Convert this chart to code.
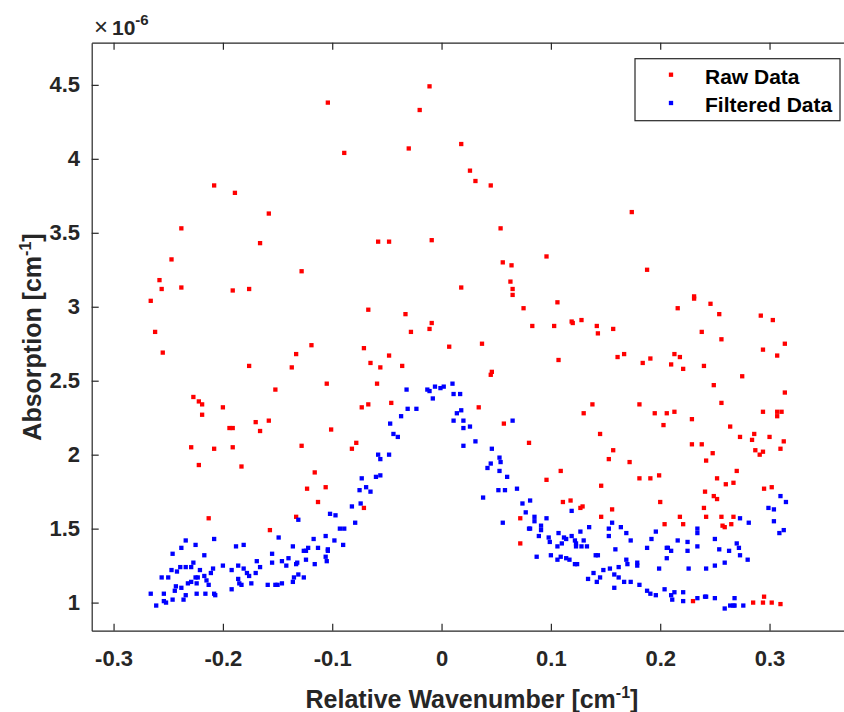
<!DOCTYPE html>
<html>
<head>
<meta charset="utf-8">
<script src="https://cdn.jsdelivr.net/npm/d3@7"></script>
<style>
  body { margin: 0; background: #fff; }
  text { font-family: "Liberation Sans", Arial, Helvetica, sans-serif; }
</style>
</head>
<body>
<div id="main-chart"></div>
<script>
const width = 844;
const height = 712;
const margin = { left: 91.7, right: -13, top: 42.7, bottom: 81.3 };

// absorption values in units of 1e-6 cm^-1
const rawData = [
  [-0.266, 3.04], [-0.262, 2.83], [-0.258, 3.18], [-0.256, 3.12], [-0.255, 2.69],
  [-0.247, 3.32], [-0.238, 3.53], [-0.238, 3.13], [-0.229, 2.05], [-0.227, 2.39],
  [-0.222, 2.36], [-0.222, 1.93], [-0.219, 2.34], [-0.219, 2.27], [-0.213, 1.57],
  [-0.208, 3.82], [-0.208, 2.04], [-0.2, 2.32], [-0.194, 2.18], [-0.191, 2.18],
  [-0.191, 3.11], [-0.191, 2.05], [-0.189, 3.77], [-0.183, 1.92], [-0.176, 3.12],
  [-0.176, 2.6], [-0.17, 2.22], [-0.166, 3.43], [-0.166, 2.16], [-0.158, 3.63],
  [-0.158, 2.23], [-0.157, 1.49], [-0.152, 2.44], [-0.137, 2.59], [-0.133, 2.68],
  [-0.133, 1.58], [-0.128, 3.24], [-0.128, 2.06], [-0.123, 1.77], [-0.119, 2.74],
  [-0.116, 1.88], [-0.113, 1.68], [-0.106, 1.78], [-0.105, 2.48], [-0.104, 4.38],
  [-0.101, 2.17], [-0.089, 4.04], [-0.082, 2.04], [-0.078, 2.08], [-0.073, 2.32],
  [-0.071, 2.72], [-0.071, 1.64], [-0.067, 2.98], [-0.067, 2.34], [-0.065, 2.62],
  [-0.059, 2.48], [-0.058, 3.44], [-0.056, 2.59], [-0.048, 3.44], [-0.048, 2.67],
  [-0.046, 2.35], [-0.036, 2.6], [-0.033, 2.95], [-0.03, 4.07], [-0.028, 2.83],
  [-0.02, 4.33], [-0.011, 4.49], [-0.011, 2.85], [-0.009, 3.45], [-0.009, 2.89],
  [0.007, 2.73], [0.018, 4.1], [0.018, 3.13], [0.026, 3.92], [0.031, 3.85],
  [0.034, 2.32], [0.037, 2.75], [0.045, 3.82], [0.045, 2.54], [0.046, 2.56],
  [0.054, 3.53], [0.056, 3.3], [0.057, 2.21], [0.063, 3.17], [0.064, 3.28],
  [0.065, 3.12], [0.065, 3.08], [0.072, 1.57], [0.072, 1.4], [0.075, 2.99],
  [0.08, 2.08], [0.083, 2.87], [0.096, 3.34], [0.096, 1.83], [0.103, 2.87],
  [0.106, 3.03], [0.107, 2.64], [0.109, 1.89], [0.111, 1.68], [0.118, 1.69],
  [0.119, 2.9], [0.12, 2.89], [0.127, 1.64], [0.129, 1.65], [0.128, 2.91],
  [0.13, 2.28], [0.138, 2.34], [0.142, 2.87], [0.143, 2.82], [0.145, 2.14],
  [0.146, 1.79], [0.146, 1.58], [0.153, 1.97], [0.156, 1.63], [0.157, 2.85],
  [0.157, 2.03], [0.161, 2.66], [0.167, 2.68], [0.172, 1.95], [0.174, 3.64],
  [0.181, 2.34], [0.181, 1.84], [0.184, 2.62], [0.188, 3.25], [0.191, 2.65],
  [0.191, 1.84], [0.195, 2.28], [0.199, 1.86], [0.2, 1.68], [0.203, 2.2],
  [0.204, 1.53], [0.206, 2.28], [0.21, 2.61], [0.213, 2.68], [0.213, 2.29],
  [0.216, 2.99], [0.218, 2.66], [0.218, 1.58], [0.221, 2.58], [0.221, 1.53],
  [0.229, 2.24], [0.229, 2.07], [0.23, 1.01], [0.231, 3.07], [0.231, 3.055],
  [0.238, 2.83], [0.238, 2.07], [0.24, 2.6], [0.24, 1.64], [0.241, 1.75],
  [0.242, 1.96], [0.242, 1.58], [0.246, 3.02], [0.248, 2.01], [0.249, 2.47],
  [0.249, 1.72], [0.252, 1.84], [0.252, 1.7], [0.254, 2.95], [0.256, 2.78],
  [0.256, 2.35], [0.256, 1.58], [0.257, 1.52], [0.259, 1.51], [0.26, 1.8],
  [0.264, 2.19], [0.265, 1.53], [0.267, 1.81], [0.267, 1.58], [0.27, 1.89],
  [0.273, 2.12], [0.275, 2.53], [0.284, 2.1], [0.285, 1.0], [0.286, 2.14],
  [0.287, 2.03], [0.291, 2.0], [0.292, 2.94], [0.294, 2.71], [0.294, 2.29],
  [0.294, 2.02], [0.294, 1.0], [0.295, 1.77], [0.295, 1.04], [0.3, 2.12],
  [0.302, 1.78], [0.302, 1.0], [0.303, 2.91], [0.307, 2.67], [0.307, 2.29],
  [0.307, 2.26], [0.31, 2.04], [0.31, 0.99], [0.311, 2.29], [0.313, 2.09],
  [0.314, 2.75], [0.314, 2.42],
];

const filteredData = [
  [-0.234, 1.42], [-0.208, 1.43], [-0.225, 1.39], [-0.238, 1.37], [-0.188, 1.38],
  [-0.181, 1.39], [-0.149, 1.44], [-0.246, 1.33], [-0.217, 1.32], [-0.155, 1.33],
  [-0.227, 1.27], [-0.169, 1.28], [-0.155, 1.27], [-0.146, 1.28], [-0.239, 1.24],
  [-0.234, 1.24], [-0.229, 1.24], [-0.247, 1.22], [-0.242, 1.21], [-0.221, 1.22],
  [-0.209, 1.23], [-0.211, 1.2], [-0.2, 1.25], [-0.192, 1.22], [-0.186, 1.25],
  [-0.181, 1.23], [-0.178, 1.2], [-0.176, 1.18], [-0.17, 1.2], [-0.166, 1.24],
  [-0.256, 1.17], [-0.25, 1.17], [-0.225, 1.17], [-0.223, 1.17], [-0.217, 1.18],
  [-0.215, 1.15], [-0.213, 1.12], [-0.229, 1.14], [-0.232, 1.13], [-0.224, 1.13],
  [-0.243, 1.11], [-0.244, 1.08], [-0.238, 1.1], [-0.186, 1.16], [-0.185, 1.13],
  [-0.183, 1.12], [-0.174, 1.13], [-0.159, 1.12], [-0.152, 1.12], [-0.15, 1.12],
  [-0.146, 1.13], [-0.192, 1.09], [-0.266, 1.06], [-0.254, 1.06], [-0.234, 1.05],
  [-0.224, 1.06], [-0.216, 1.06], [-0.208, 1.06], [-0.207, 1.05], [-0.246, 1.02],
  [-0.236, 1.02], [-0.254, 1.01], [-0.252, 1.0], [-0.261, 0.98],
  [-0.032, 2.44], [-0.013, 2.44], [-0.011, 2.43], [-0.006, 2.46], [-0.001, 2.45],
  [0.002, 2.46], [0.01, 2.48], [0.011, 2.41], [0.017, 2.41], [-0.008, 2.38],
  [-0.031, 2.31], [-0.023, 2.31], [-0.037, 2.26], [0.014, 2.28], [0.018, 2.3],
  [0.011, 2.23], [0.02, 2.23], [-0.047, 2.21], [0.02, 2.18], [0.026, 2.19],
  [-0.044, 2.14], [-0.04, 2.12], [0.02, 2.06], [-0.058, 2.0], [-0.056, 1.97],
  [-0.048, 2.0], [-0.06, 1.85], [-0.056, 1.86], [-0.073, 1.84], [-0.069, 1.78],
  [-0.075, 1.76], [-0.065, 1.75], [-0.082, 1.65], [-0.074, 1.67], [-0.102, 1.6],
  [-0.097, 1.59], [-0.131, 1.56], [-0.093, 1.5], [-0.089, 1.5], [-0.079, 1.54],
  [-0.117, 1.43], [-0.106, 1.45], [-0.098, 1.42], [-0.136, 1.38], [-0.122, 1.37],
  [-0.126, 1.35], [-0.124, 1.35], [-0.113, 1.37], [-0.104, 1.36], [-0.104, 1.35],
  [-0.09, 1.39], [-0.14, 1.3], [-0.142, 1.25], [-0.133, 1.26], [-0.132, 1.27],
  [-0.124, 1.29], [-0.116, 1.26], [-0.106, 1.31], [-0.105, 1.28], [-0.135, 1.17],
  [-0.136, 1.14], [-0.131, 1.19], [-0.126, 1.17],
  [0.031, 2.09], [0.065, 2.23], [0.046, 2.04], [0.053, 1.98], [0.054, 1.95],
  [0.045, 1.94], [0.042, 1.91], [0.053, 1.89], [0.06, 1.85], [0.052, 1.76],
  [0.058, 1.76], [0.069, 1.77], [0.038, 1.71], [0.074, 1.67], [0.081, 1.69],
  [0.077, 1.61], [0.085, 1.58], [0.085, 1.55], [0.096, 1.57], [0.119, 1.62],
  [0.056, 1.54], [0.08, 1.5], [0.081, 1.5], [0.091, 1.52], [0.091, 1.49],
  [0.107, 1.47], [0.089, 1.45], [0.098, 1.44], [0.099, 1.41], [0.112, 1.44],
  [0.114, 1.43], [0.119, 1.45], [0.127, 1.48], [0.135, 1.51], [0.122, 1.42],
  [0.123, 1.4], [0.123, 1.38], [0.13, 1.42], [0.128, 1.38], [0.133, 1.38],
  [0.11, 1.4], [0.106, 1.38], [0.156, 1.54], [0.153, 1.5], [0.164, 1.51],
  [0.169, 1.47], [0.153, 1.45], [0.173, 1.42], [0.159, 1.36], [0.087, 1.31],
  [0.1, 1.32], [0.106, 1.29], [0.109, 1.31], [0.114, 1.3], [0.117, 1.29],
  [0.122, 1.26], [0.124, 1.26], [0.141, 1.32], [0.143, 1.32], [0.169, 1.29],
  [0.17, 1.26], [0.179, 1.27], [0.179, 1.25], [0.139, 1.2], [0.148, 1.22],
  [0.154, 1.23], [0.162, 1.24], [0.134, 1.16], [0.145, 1.17], [0.142, 1.14],
  [0.158, 1.19], [0.162, 1.17], [0.167, 1.14], [0.173, 1.14], [0.181, 1.12],
  [0.158, 1.1],
  [0.31, 1.72], [0.315, 1.68], [0.299, 1.64], [0.304, 1.63], [0.273, 1.57],
  [0.281, 1.54], [0.304, 1.55], [0.313, 1.49], [0.309, 1.47], [0.196, 1.48],
  [0.234, 1.5], [0.234, 1.47], [0.192, 1.43], [0.216, 1.42], [0.225, 1.41],
  [0.25, 1.43], [0.188, 1.37], [0.206, 1.37], [0.207, 1.37], [0.21, 1.35],
  [0.225, 1.35], [0.234, 1.38], [0.254, 1.36], [0.263, 1.35], [0.27, 1.4],
  [0.272, 1.37], [0.273, 1.32], [0.28, 1.29], [0.206, 1.3], [0.199, 1.23],
  [0.226, 1.23], [0.242, 1.23], [0.25, 1.25], [0.259, 1.27], [0.188, 1.08],
  [0.191, 1.06], [0.196, 1.05], [0.204, 1.09], [0.21, 1.05], [0.211, 1.02],
  [0.213, 1.07], [0.221, 1.07], [0.221, 1.01], [0.234, 1.03], [0.241, 1.04],
  [0.242, 1.04], [0.25, 1.03], [0.268, 1.03], [0.259, 0.96], [0.264, 0.98],
  [0.267, 0.98], [0.268, 0.98], [0.276, 0.98],
];

const xDomain = [-0.32, 0.38];
const yDomain = [0.81, 4.785];
const xTicks = [-0.3, -0.2, -0.1, 0, 0.1, 0.2, 0.3];
const yTicks = [1, 1.5, 2, 2.5, 3, 3.5, 4, 4.5];
const seriesNames = ["Raw Data", "Filtered Data"];
const seriesColors = ["#ff0000", "#0000ff"];

const axisColor = "#262626";
const markerSize = 4.3;
const tickLength = 7;

const svg = d3
  .select("#main-chart")
  .append("svg")
  .attr("width", width)
  .attr("height", height)
  .style("display", "block");

const xScale = d3
  .scaleLinear()
  .domain(xDomain)
  .range([margin.left, width - margin.right]);

const yScale = d3
  .scaleLinear()
  .domain(yDomain)
  .range([height - margin.bottom, margin.top]);

const styleAxis = (g) => {
  g.select(".domain").attr("stroke", axisColor).attr("stroke-width", 1.2);
  g.selectAll(".tick line").attr("stroke", axisColor).attr("stroke-width", 1.2);
  g.selectAll(".tick text")
    .attr("fill", axisColor)
    .attr("font-size", 22)
    .attr("font-weight", "bold");
};

// bottom axis, ticks pointing inward
svg
  .append("g")
  .attr("class", "x-axis")
  .attr("transform", `translate(0, ${height - margin.bottom})`)
  .call(
    d3
      .axisBottom(xScale)
      .tickValues(xTicks)
      .tickFormat((d) => String(d))
      .tickSizeInner(-tickLength)
      .tickSizeOuter(0)
      .tickPadding(20)
  )
  .call(styleAxis);

// top edge of the box
svg
  .append("g")
  .attr("class", "x-axis-top")
  .attr("transform", `translate(0, ${margin.top})`)
  .call(
    d3
      .axisTop(xScale)
      .tickValues(xTicks)
      .tickFormat("")
      .tickSizeInner(-tickLength)
      .tickSizeOuter(0)
  )
  .call(styleAxis);

svg
  .append("g")
  .attr("class", "y-axis")
  .attr("transform", `translate(${margin.left}, 0)`)
  .call(
    d3
      .axisLeft(yScale)
      .tickValues(yTicks)
      .tickFormat((d) => String(d))
      .tickSizeInner(-tickLength)
      .tickSizeOuter(0)
      .tickPadding(11.7)
  )
  .call(styleAxis);

// scatter points
const plotGroup = svg.append("g").attr("class", "points");

[rawData, filteredData].forEach((series, i) => {
  plotGroup
    .append("g")
    .attr("fill", seriesColors[i])
    .selectAll("rect")
    .data(series)
    .join("rect")
    .attr("x", (d) => xScale(d[0]) - markerSize / 2)
    .attr("y", (d) => yScale(d[1]) - markerSize / 2)
    .attr("width", markerSize)
    .attr("height", markerSize);
});

// axis titles
const xTitle = svg
  .append("text")
  .attr("x", 472)
  .attr("y", 708)
  .attr("text-anchor", "middle")
  .attr("font-size", 25)
  .attr("font-weight", "bold")
  .attr("fill", axisColor);
xTitle.append("tspan").text("Relative Wavenumber [cm");
xTitle.append("tspan").attr("font-size", 16).attr("dy", -10).text("-1");
xTitle.append("tspan").attr("dy", 10).text("]");

const yTitle = svg
  .append("text")
  .attr("transform", "translate(41, 337) rotate(-90)")
  .attr("text-anchor", "middle")
  .attr("font-size", 25)
  .attr("font-weight", "bold")
  .attr("fill", axisColor);
yTitle.append("tspan").text("Absorption [cm");
yTitle.append("tspan").attr("font-size", 16).attr("dy", -10).text("-1");
yTitle.append("tspan").attr("dy", 10).text("]");

// exponent label
const expLabel = svg
  .append("text")
  .attr("x", 94)
  .attr("y", 35)
  .attr("fill", axisColor);
expLabel.append("tspan").attr("font-size", 24).text("×");
expLabel
  .append("tspan")
  .attr("x", 112)
  .attr("font-size", 21)
  .attr("font-weight", "bold")
  .text("10");
expLabel
  .append("tspan")
  .attr("font-size", 15)
  .attr("font-weight", "bold")
  .attr("dy", -10)
  .text("-6");

// legend
const legendGroup = svg.append("g").attr("class", "legend");

legendGroup
  .append("rect")
  .attr("x", 635)
  .attr("y", 58.7)
  .attr("width", 205)
  .attr("height", 62)
  .attr("fill", "#fff")
  .attr("stroke", axisColor)
  .attr("stroke-width", 1.2);

const legendRows = legendGroup
  .selectAll(".legend-row")
  .data(seriesNames)
  .join("g")
  .attr("class", "legend-row")
  .attr("transform", (d, i) => `translate(0, ${74.7 + i * 28.3})`);

legendRows
  .append("rect")
  .attr("x", 671 - markerSize / 2)
  .attr("y", -markerSize / 2)
  .attr("width", markerSize)
  .attr("height", markerSize)
  .attr("fill", (d, i) => seriesColors[i]);

legendRows
  .append("text")
  .attr("x", 705)
  .attr("y", 9)
  .attr("font-size", 21)
  .attr("font-weight", "bold")
  .attr("fill", "#000")
  .text((d) => d);
</script>
